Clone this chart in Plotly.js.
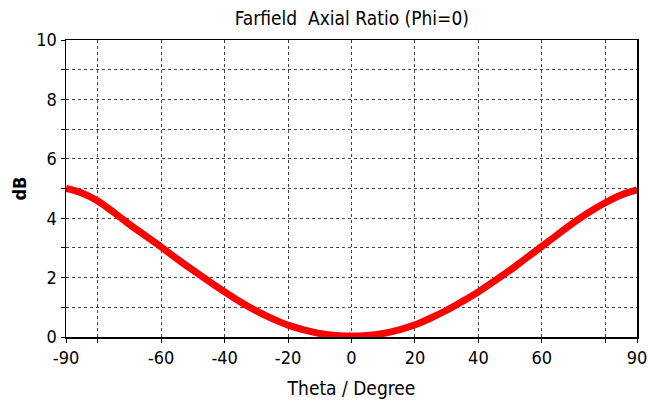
<!DOCTYPE html>
<html>
<head>
<meta charset="utf-8">
<script src="https://cdn.plot.ly/plotly-3.0.1.min.js"></script>
<style>html,body{margin:0;padding:0;background:#fff;}#chart{width:648px;height:404px;}</style>
</head>
<body>
<div id="chart"></div>
<script>
var theta = [-90,-85,-80,-75,-70,-65,-60,-55,-50,-45,-40,-35,-30,-25,-20,-15,-10,-5,0,5,10,15,20,25,30,35,40,45,50,55,60,65,70,75,80,85,90];
var axialRatio = [5.00,4.85,4.58,4.20,3.79,3.41,3.03,2.63,2.25,1.88,1.52,1.18,0.88,0.62,0.40,0.24,0.12,0.05,0.03,0.05,0.12,0.24,0.41,0.64,0.90,1.20,1.52,1.88,2.25,2.65,3.05,3.45,3.85,4.21,4.52,4.78,4.95];
var xTickVals = [-90,-80,-60,-40,-20,0,20,40,60,80,90];
var xTickText = ['-90','','-60','-40','-20','0','20','40','60','','90'];
var yTickVals = [0,1,2,3,4,5,6,7,8,9,10];
var yTickText = ['0','','2','','4','','6','','8','','10'];

var FONT = 'DejaVu Sans Condensed, Liberation Sans Narrow, sans-serif';
var trace = {
  x: theta, y: axialRatio, mode: 'lines',
  line: {color: '#ff0000', width: 7, shape: 'spline'},
  hoverinfo: 'skip'
};
var layout = {
  width: 648, height: 404,
  margin: {l: 66, r: 11, t: 40, b: 67},
  paper_bgcolor: '#ffffff', plot_bgcolor: '#ffffff',
  showlegend: false,
  font: {family: FONT, size: 18, color: '#000'},
  title: {text: 'Farfield  Axial Ratio (Phi=0)', x: 0.543, xanchor: 'center', y: 0.955, yanchor: 'middle', font: {family: FONT, size: 19, color: '#000'}},
  xaxis: {
    range: [-90, 90], tickmode: 'array', tickvals: xTickVals, ticktext: xTickText,
    showgrid: true, gridcolor: '#444', griddash: 'dot', gridwidth: 1,
    showline: true, linecolor: '#000', linewidth: 1.5, mirror: true,
    ticks: 'outside', ticklen: 4, tickcolor: '#000',
    zeroline: false,
    tickfont: {family: FONT, size: 18, color: '#000'},
    title: {text: 'Theta / Degree', standoff: 14, font: {family: FONT, size: 19, color: '#000'}}
  },
  yaxis: {
    range: [0, 10], tickmode: 'array', tickvals: yTickVals, ticktext: yTickText,
    showgrid: true, gridcolor: '#444', griddash: 'dot', gridwidth: 1,
    showline: true, linecolor: '#000', linewidth: 1.5, mirror: true,
    ticks: 'outside', ticklen: 4, tickcolor: '#000',
    zeroline: false,
    tickfont: {family: FONT, size: 18, color: '#000'},
    title: {text: '<b>dB</b>', standoff: 5, font: {family: FONT, size: 18, color: '#000'}}
  }
};
Plotly.newPlot('chart', [trace], layout, {staticPlot: true, displayModeBar: false});
</script>
</body>
</html>
